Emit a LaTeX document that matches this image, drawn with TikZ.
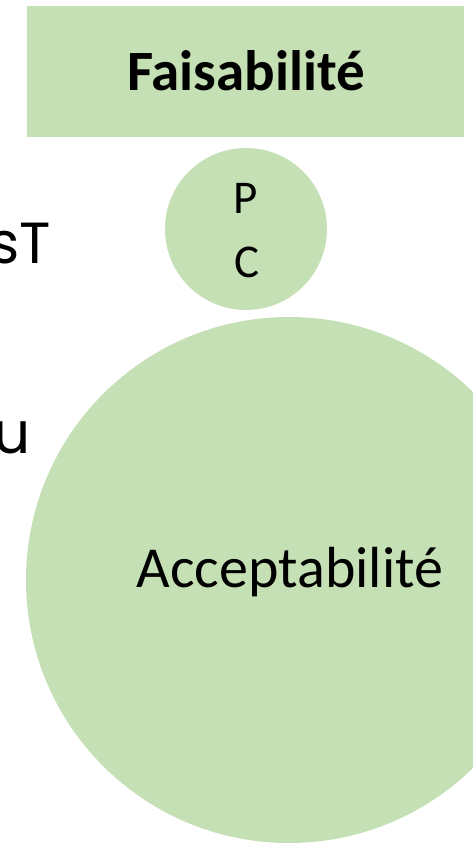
\documentclass[tikz,border=0pt]{standalone}
\usepackage{fontspec}
\setmainfont{Carlito}
\newfontfamily\bordfont{Poppins}
\definecolor{vertpale}{HTML}{C5E0B4}

\begin{document}
\begin{tikzpicture}[x=1pt,y=-1pt,
		zone/.style={fill=vertpale},
		grand/.style={font=\fontsize{58}{64}\selectfont, inner sep=0pt, anchor=base},
		lettre/.style={font=\fontsize{47}{52}\selectfont, inner sep=0pt, anchor=base},
		bord/.style={font=\bordfont\fontsize{58}{64}\selectfont, inner sep=0pt, anchor=base east}]
			\useasboundingbox (0,0) rectangle (473,843);
			\clip (0,0) rectangle (473,843);
			%\draw[help lines,step=50] (0,0) grid (473,843);
			
			\fill[zone] (27,6) rectangle (464,137);
			\fill[zone] (246,229) circle (81pt);
			\fill[zone] (289,580) circle (263pt);
			
			\node[grand,font=\bfseries\fontsize{57}{62}\selectfont] (faisab) at (246,90) {Faisabilité};
			\node[lettre] (p) at (246,213) {P};
			\node[lettre] (c) at (247,277) {C};
			\node[grand] (accept) at (290,587) {Acceptabilité};
			
			% textes coupes a gauche
			\node[bord] (bordst) at (51,263) {sT};
			\node[bord] (bordu) at (31,453) {u};
			\node[bord] (bordn) at (5,705) {u};
		\end{tikzpicture}
\end{document}
